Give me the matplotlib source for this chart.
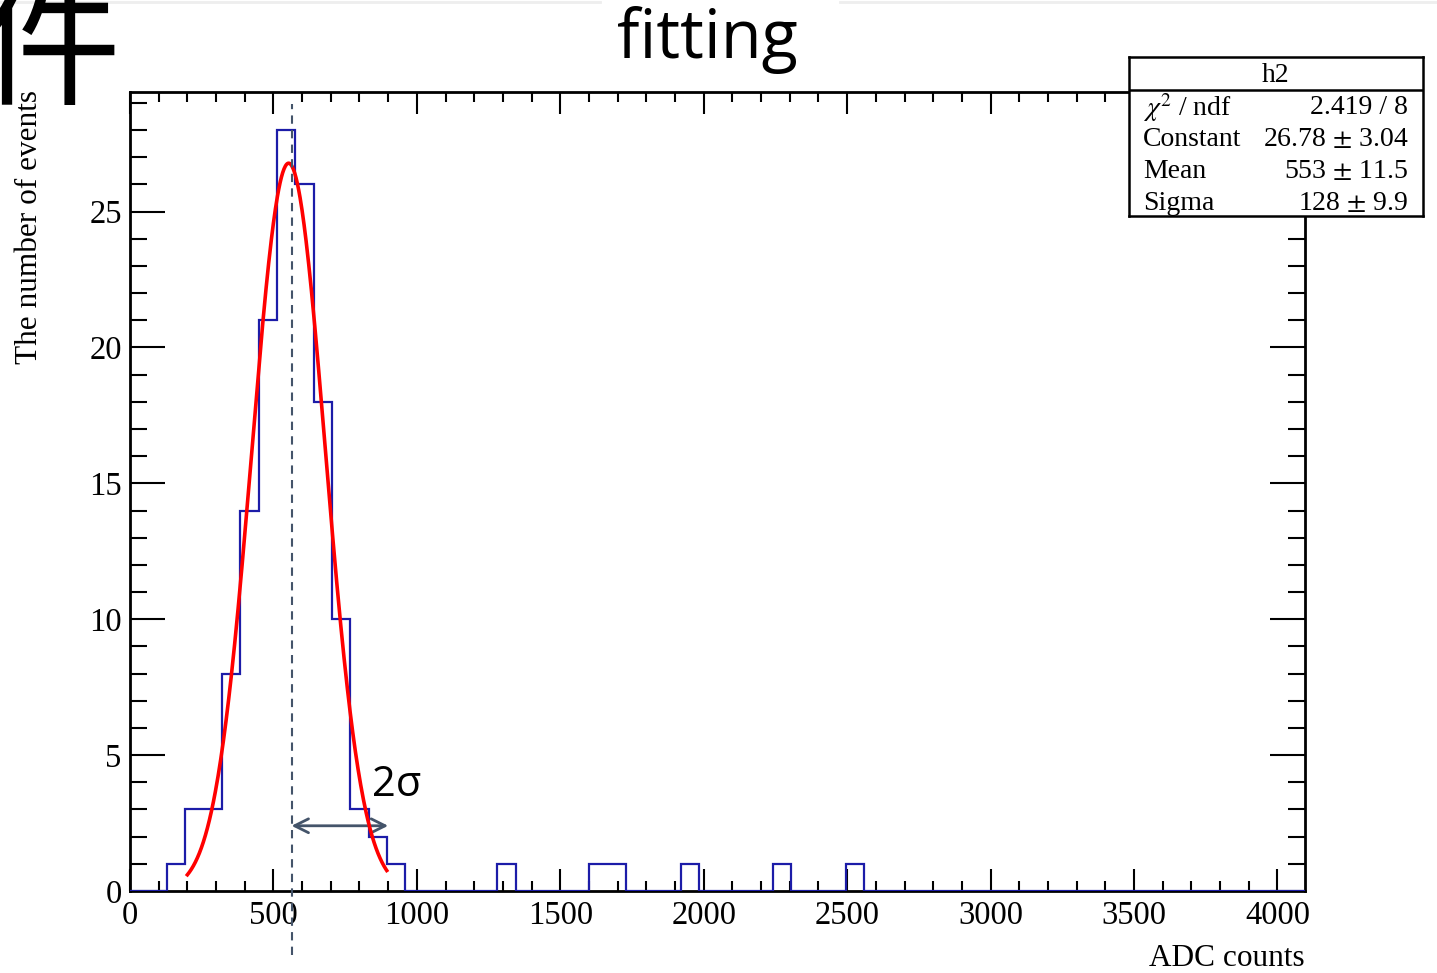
#! /usr/bin/env python3

#Load packages for plotting the ADC histogram with a gaussian fit
import numpy as np
import matplotlib
matplotlib.use("Agg")
import matplotlib.pyplot as plt
from matplotlib.lines import Line2D

#Histogram data: lower edge of each non-empty bin and its content (bin width 64)
bin_width = 64
bin_lows = [128, 192, 256, 320, 384, 448, 512, 576, 640, 704, 768, 832, 896,
            1280, 1600, 1664, 1920, 2240, 2496]
bin_counts = [1, 3, 3, 8, 14, 21, 28, 26, 18, 10, 3, 2, 1,
              1, 1, 1, 1, 1, 1]

#Fit result shown in the stats box
fit_constant = 26.78
fit_mean = 553
fit_sigma = 128
fit_range = [200, 895]
stat_names = ["$\\chi^{2}$ / ndf", "Constant", "Mean", "Sigma"]
stat_values = ["2.419 / 8", "26.78 $\\pm$ 3.04", "553 $\\pm$ 11.5", "128 $\\pm$ 9.9"]

#Axis setup
x_max = 4096
y_max = 29.4
x_ticks = [0, 500, 1000, 1500, 2000, 2500, 3000, 3500, 4000]
y_ticks = [0, 5, 10, 15, 20, 25]

plt.rcParams["font.family"] = ["Liberation Serif", "DejaVu Serif"]
plt.rcParams["mathtext.fontset"] = "stix"

fig = plt.figure(figsize=(14.37, 9.73), dpi=100)
ax = fig.add_axes([130 / 1437, 82 / 973, 1175 / 1437, 799 / 973])

#Build the full histogram
edges = np.arange(0, x_max + bin_width, bin_width)
counts = np.zeros(len(edges) - 1)
for low, c in zip(bin_lows, bin_counts):
    counts[low // bin_width] = c
ax.stairs(counts, edges, color="#1c1ca8", linewidth=1.6, zorder=3)

#Gaussian fit curve
xf = np.linspace(fit_range[0], fit_range[1], 300)
yf = fit_constant * np.exp(-0.5 * ((xf - fit_mean) / fit_sigma) ** 2)
ax.plot(xf, yf, color="red", linewidth=2.6, zorder=4)

#Dashed marker at the peak and the 2 sigma arrow
ax.plot([563, 563], [-2.36, 28.95], color="#44546A", linestyle=(0, (4, 3)),
        linewidth=1.5, clip_on=False, zorder=5)
ax.annotate("", xy=(563, 2.4), xytext=(900, 2.4),
            arrowprops=dict(arrowstyle="<->", color="#44546A", lw=2,
                            mutation_scale=25, shrinkA=0, shrinkB=0))
ax.text(845, 3.9, "2σ", fontsize=30, family=["Open Sans", "DejaVu Sans"],
        ha="left", va="center", zorder=6)

ax.set_xlim(0, x_max)
ax.set_ylim(0, y_max)
ax.set_xticks(x_ticks)
ax.set_yticks(y_ticks)
ax.set_xticks(np.arange(0, x_max, 100), minor=True)
ax.set_yticks(np.arange(0, 30, 1), minor=True)
ax.tick_params(axis="both", which="both", direction="in", top=True, right=True,
               labelsize=23.5, width=1.5, colors="black")
ax.tick_params(axis="x", which="major", length=16, pad=7)
ax.tick_params(axis="x", which="minor", length=7.5)
ax.tick_params(axis="y", which="major", length=25, pad=6)
ax.tick_params(axis="y", which="minor", length=12)
for s in ax.spines.values():
    s.set_linewidth(2)

fig.text(30 / 1437, 1 - 90 / 973, "The number of events", rotation=90,
         fontsize=22.5, ha="center", va="top")
fig.text(1305 / 1437, 1 - 958 / 973, "ADC counts", fontsize=22.5,
         ha="right", va="center")

#Stats box
box = fig.add_axes([1129 / 1437, 1 - 216 / 973, 294 / 1437, 159 / 973], zorder=10)
box.set_xticks([])
box.set_yticks([])
box.set_xlim(0, 1)
box.set_ylim(0, 1)
for s in box.spines.values():
    s.set_linewidth(1.8)
box.axhline(0.792, color="black", linewidth=1.8)
box.text(0.5, 0.885, "h2", fontsize=20, ha="center", va="center")
rows = [0.68, 0.48, 0.278, 0.076]
for name, val, yy in zip(stat_names, stat_values, rows):
    box.text(0.048, yy, name, fontsize=20, ha="left", va="center")
    box.text(0.949, yy, val, fontsize=20, ha="right", va="center")

#Slide title and the clipped character in the corner
fig.text(707 / 1437, 1 - 40 / 973, "fitting", fontsize=48,
         family=["Open Sans", "DejaVu Sans"], ha="center", va="center")
fig.text(-23 / 1437, 1 - 94 / 973, "件", fontsize=103,
         family=["Noto Sans CJK SC", "DejaVu Sans"], ha="left", va="baseline")

#Faint slide border lines at the top
fig.add_artist(Line2D([0, 600 / 1437], [1 - 2 / 973, 1 - 2 / 973],
                      transform=fig.transFigure, color="#eeeeee", linewidth=2))
fig.add_artist(Line2D([840 / 1437, 1], [1 - 2 / 973, 1 - 2 / 973],
                      transform=fig.transFigure, color="#eeeeee", linewidth=2))

fig.savefig("out.png", dpi=100)
